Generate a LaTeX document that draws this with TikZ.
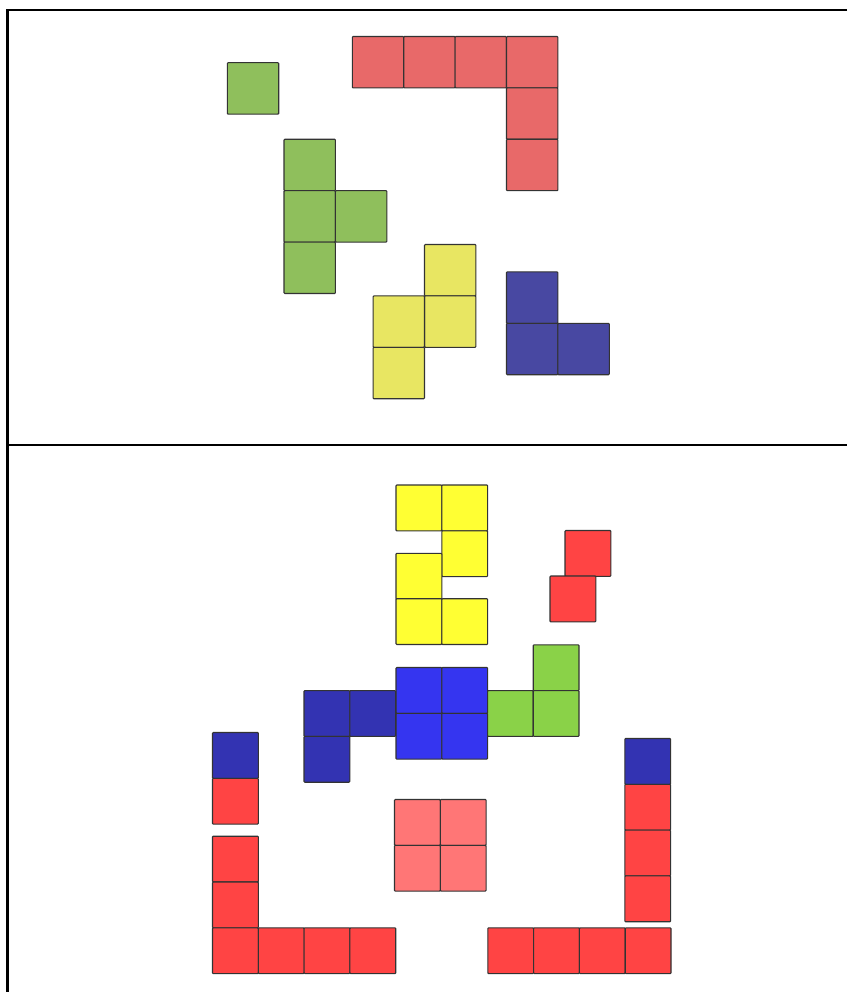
\documentclass[tikz,border=0pt]{standalone}
\definecolor{tgreen}{RGB}{143,191,92}
\definecolor{tred}{RGB}{232,105,105}
\definecolor{tyellow}{RGB}{232,230,98}
\definecolor{tblue}{RGB}{72,72,162}
\definecolor{byellow}{RGB}{255,255,51}
\definecolor{bred}{RGB}{255,68,68}
\definecolor{bgreen}{RGB}{138,210,72}
\definecolor{bblue}{RGB}{53,53,240}
\definecolor{bdblue}{RGB}{51,51,178}
\definecolor{bpink}{RGB}{255,118,118}
\tikzset{
  tile/.style={draw=black!80, line width=1.1pt, rounded corners=0.8pt},
  frame/.style={draw=black, line width=2.3pt}
}
\newcommand\sqA[3]{\path[tile, fill=#3] (#1,#2) rectangle ++(51.4,51.4);}
\newcommand\sqB[3]{\path[tile, fill=#3] (#1,#2) rectangle ++(45.8,45.8);}
\begin{document}
\begin{tikzpicture}[x=1pt,y=-1pt]
\useasboundingbox (0,0) rectangle (847,992);
% frame
\draw[frame] (847,10) -- (7.5,10) -- (7.5,992);
\draw[frame] (7.5,445) -- (847,445);
% ---------- top panel ----------
\sqA{227.3}{62.7}{tgreen}
\foreach \x in {352.3,403.7,455.1,506.5}{\sqA{\x}{36.5}{tred}}
\sqA{506.5}{87.9}{tred}
\sqA{506.5}{139.3}{tred}
\sqA{284}{139.3}{tgreen}
\sqA{284}{190.7}{tgreen}
\sqA{284}{242.1}{tgreen}
\sqA{335.4}{190.7}{tgreen}
\sqA{424.5}{244.5}{tyellow}
\sqA{424.5}{295.9}{tyellow}
\sqA{373.1}{295.9}{tyellow}
\sqA{373.1}{347.3}{tyellow}
\sqA{506.5}{271.9}{tblue}
\sqA{506.5}{323.3}{tblue}
\sqA{557.9}{323.3}{tblue}
% ---------- bottom panel ----------
\sqB{396}{485}{byellow}
\sqB{441.8}{485}{byellow}
\sqB{441.8}{530.8}{byellow}
\sqB{396}{553.3}{byellow}
\sqB{396}{598.7}{byellow}
\sqB{441.8}{598.7}{byellow}
\sqB{565}{530.5}{bred}
\sqB{550}{576}{bred}
\sqB{533.2}{644.8}{bgreen}
\sqB{487.4}{690.6}{bgreen}
\sqB{533.2}{690.6}{bgreen}
\sqB{396}{667.5}{bblue}
\sqB{441.8}{667.5}{bblue}
\sqB{396}{713.3}{bblue}
\sqB{441.8}{713.3}{bblue}
\sqB{304}{690.6}{bdblue}
\sqB{349.8}{690.6}{bdblue}
\sqB{304}{736.4}{bdblue}
\sqB{212.5}{732.5}{bdblue}
\sqB{212.5}{778.3}{bred}
\sqB{212.5}{836.2}{bred}
\sqB{212.5}{882}{bred}
\foreach \x in {212.5,258.3,304.1,349.9}{\sqB{\x}{927.8}{bred}}
\sqB{394.5}{799.5}{bpink}
\sqB{440.3}{799.5}{bpink}
\sqB{394.5}{845.3}{bpink}
\sqB{440.3}{845.3}{bpink}
\sqB{624.8}{738.5}{bdblue}
\sqB{624.8}{784.3}{bred}
\sqB{624.8}{830.1}{bred}
\sqB{624.8}{875.9}{bred}
\foreach \x in {487.8,533.6,579.4,625.2}{\sqB{\x}{927.8}{bred}}
\end{tikzpicture}
\end{document}
